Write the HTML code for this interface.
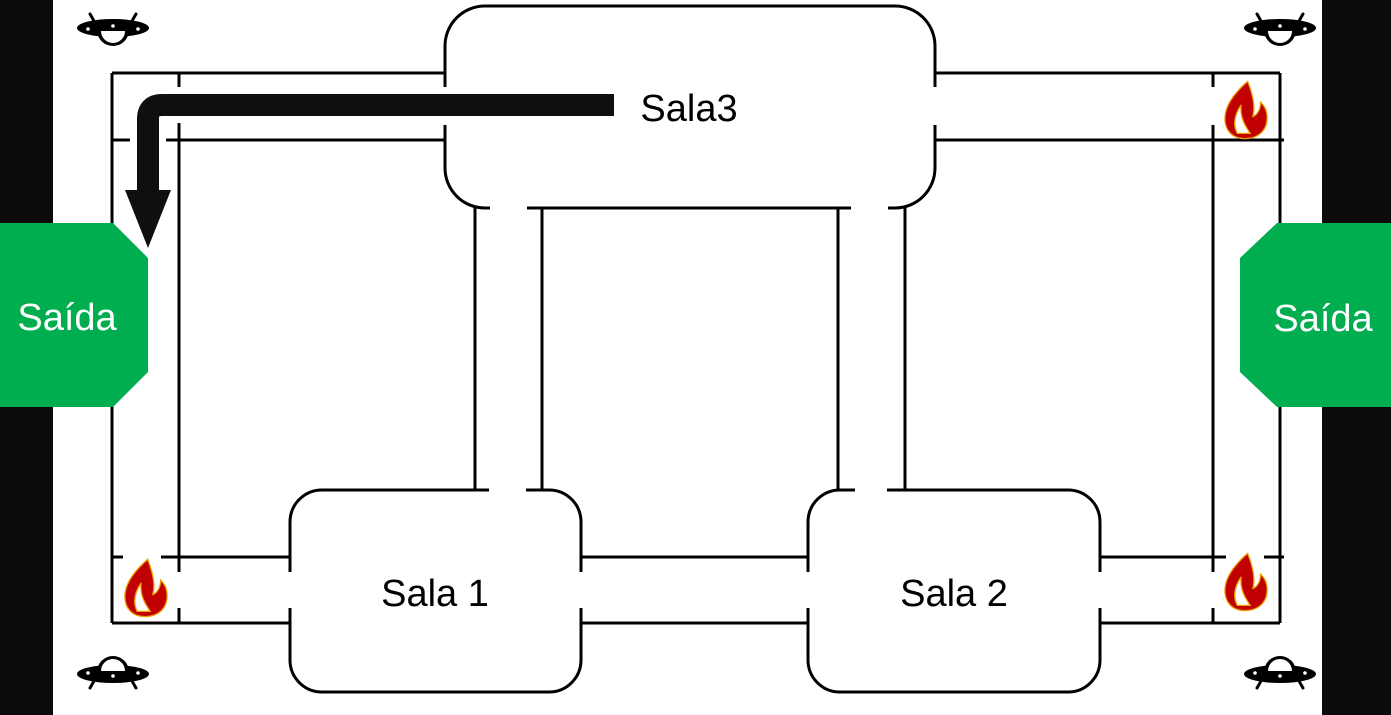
<!DOCTYPE html>
<html><head><meta charset="utf-8"><style>
html,body{margin:0;padding:0;background:#0b0b0b;}
svg{display:block;}
</style></head><body>
<svg width="1391" height="715" viewBox="0 0 1391 715" xmlns="http://www.w3.org/2000/svg">
<defs>
<g id="fire">
<path d="M2,-22 C-14,-8 -18,4 -14,14 C-11,20 -6,22 0,22 C10,22 17,16 17,6 C17,-1 14,-4 12,-6 C12,0 9,4 6,5 C8,-2 6,-12 2,-22 Z M-6,18 C-10,10 -7,2 -3,-4 C-4,6 0,12 4,18 Z" fill="#c00000" stroke="#f0a000" stroke-width="1"/>
</g>
<g id="ufo">
<ellipse cx="0" cy="0" rx="36" ry="9" fill="#000"/>
<path d="M-16,2 A16,16 0 0 0 16,2 Z" fill="#000"/>
<path d="M-12,3 A12,12 0 0 0 12,3 Z" fill="#fff"/>
<circle cx="-25" cy="1" r="1.8" fill="#fff"/><circle cx="25" cy="1" r="1.8" fill="#fff"/><circle cx="0" cy="-2" r="1.8" fill="#fff"/>
<line x1="-19" y1="-7" x2="-23" y2="-14" stroke="#000" stroke-width="3" stroke-linecap="round"/>
<line x1="19" y1="-7" x2="23" y2="-14" stroke="#000" stroke-width="3" stroke-linecap="round"/>
</g>
</defs>
<rect x="53" y="0" width="1269" height="715" fill="#fff"/>
<g stroke="#000" stroke-width="3" fill="none">
<line x1="112" y1="73" x2="445" y2="73"/><line x1="112" y1="140" x2="445" y2="140"/>
<line x1="935" y1="73" x2="1280" y2="73"/><line x1="935" y1="140" x2="1284" y2="140"/>
<line x1="112" y1="557" x2="290" y2="557"/><line x1="112" y1="623" x2="290" y2="623"/>
<line x1="581" y1="557" x2="808" y2="557"/><line x1="581" y1="623" x2="808" y2="623"/>
<line x1="1100" y1="557" x2="1284" y2="557"/><line x1="1100" y1="623" x2="1280" y2="623"/>
<line x1="112" y1="73" x2="112" y2="623"/><line x1="1280" y1="73" x2="1280" y2="623"/>
<line x1="179" y1="73" x2="179" y2="623"/><line x1="1213" y1="73" x2="1213" y2="623"/>
<line x1="475" y1="208" x2="475" y2="490"/><line x1="542" y1="208" x2="542" y2="490"/>
<line x1="838" y1="208" x2="838" y2="490"/><line x1="905" y1="208" x2="905" y2="490"/>
<rect x="445" y="6" width="490" height="202" rx="40" fill="#fff"/>
<rect x="290" y="490" width="291" height="202" rx="32" fill="#fff"/>
<rect x="808" y="490" width="292" height="202" rx="32" fill="#fff"/>
</g>
<g fill="#fff">
<rect x="440" y="87" width="10" height="38"/><rect x="930" y="87" width="10" height="38"/>
<rect x="490" y="203" width="37" height="10"/><rect x="851" y="203" width="37" height="10"/>
<rect x="489" y="485" width="37" height="10"/><rect x="855" y="485" width="32" height="10"/>
<rect x="285" y="572" width="10" height="36"/><rect x="576" y="572" width="10" height="36"/>
<rect x="803" y="572" width="10" height="36"/><rect x="1095" y="572" width="10" height="36"/>
<rect x="123" y="551" width="38" height="68"/><rect x="174" y="572" width="10" height="36"/>
<rect x="1226" y="551" width="38" height="68"/><rect x="1208" y="572" width="10" height="36"/>
<rect x="1208" y="87" width="10" height="38"/><rect x="1226" y="80" width="38" height="56"/>
</g>
<path d="M614,105 L162,105 Q148,105 148,119 L148,192" stroke="#fff" stroke-width="36" fill="none"/>
<path d="M614,105 L162,105 Q148,105 148,119 L148,192" stroke="#0f0f0f" stroke-width="22" fill="none"/>
<polygon points="125,190 171,190 148,248" fill="#0f0f0f"/>
<g transform="translate(1245,110) scale(1.3)"><use href="#fire"/></g>
<g transform="translate(145,588) scale(1.3)"><use href="#fire"/></g>
<g transform="translate(1245,582) scale(1.3)"><use href="#fire"/></g>
<use href="#ufo" x="113" y="28"/>
<use href="#ufo" x="1280" y="28"/>
<g transform="translate(113,674) scale(1,-1)"><use href="#ufo"/></g>
<g transform="translate(1280,674) scale(1,-1)"><use href="#ufo"/></g>
<polygon points="0,223 113,223 148,258 148,372 113,407 0,407" fill="#00ad4f"/>
<polygon points="1277,223 1391,223 1391,407 1277,407 1240,372 1240,258" fill="#00ad4f"/>
<g font-family="'Liberation Sans',sans-serif" text-anchor="middle">
<text x="67" y="330" font-size="38" fill="#fff">Saída</text>
<text x="1323" y="331" font-size="38" fill="#fff">Saída</text>
<text x="689" y="121" font-size="38" fill="#000">Sala3</text>
<text x="435" y="606" font-size="38" fill="#000">Sala 1</text>
<text x="954" y="606" font-size="38" fill="#000">Sala 2</text>
</g>
</svg>
</body></html>
